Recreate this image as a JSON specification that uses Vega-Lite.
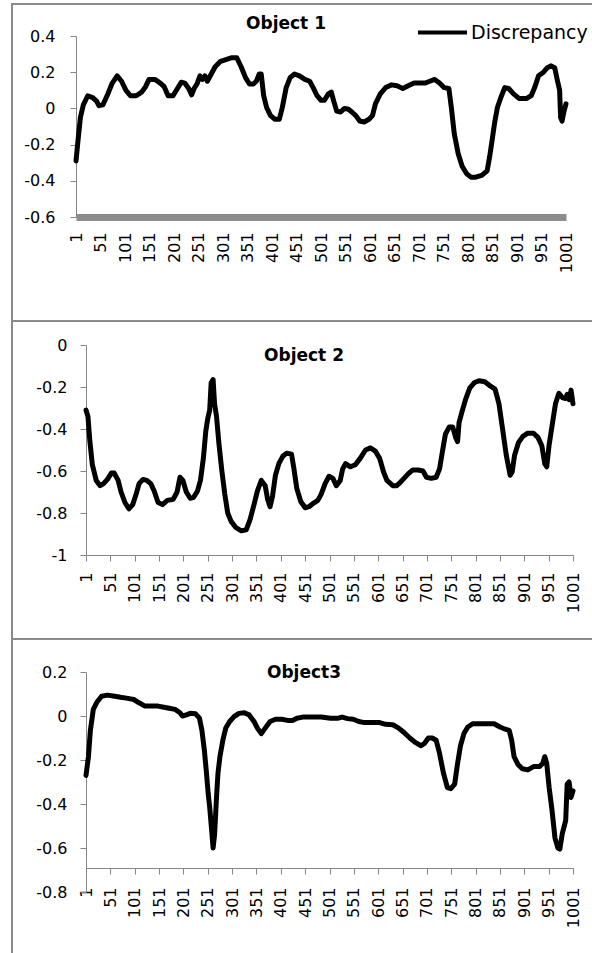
{
  "$schema": "https://vega.github.io/schema/vega-lite/v6.json",
  "background": "white",
  "padding": {"left": 11, "top": 3, "right": 0, "bottom": 0},
  "config": {
    "view": {"stroke": "#8c8c8c", "strokeWidth": 2},
    "font": "DejaVu Sans",
    "axis": {"labelFont": "DejaVu Sans", "labelFontSize": 16, "labelColor": "#000000", "domainColor": "#868686", "tickColor": "#868686", "grid": false, "tickSize": 6, "labelPadding": 14},
    "title": {"font": "DejaVu Sans", "fontSize": 17, "fontWeight": "bold", "color": "#000000"},
    "legend": {"labelFont": "DejaVu Sans", "labelFontSize": 19, "labelColor": "#000000", "padding": 0}
  },
  "datasets": {
    "p1": [
      {"i":1,"v":-0.29},{"i":5,"v":-0.18},{"i":10,"v":-0.05},{"i":16,"v":0.02},{"i":25,"v":0.07},{"i":35,"v":0.06},{"i":43,"v":0.04},{"i":48,"v":0.015},{"i":56,"v":0.02},{"i":66,"v":0.08},{"i":75,"v":0.14},{"i":85,"v":0.18},{"i":94,"v":0.15},{"i":103,"v":0.10},{"i":112,"v":0.07},{"i":124,"v":0.07},{"i":135,"v":0.09},{"i":143,"v":0.12},{"i":150,"v":0.16},{"i":162,"v":0.16},{"i":173,"v":0.14},{"i":181,"v":0.12},{"i":189,"v":0.07},{"i":199,"v":0.07},{"i":208,"v":0.11},{"i":216,"v":0.145},{"i":223,"v":0.14},{"i":231,"v":0.11},{"i":237,"v":0.075},{"i":242,"v":0.11},{"i":248,"v":0.135},{"i":254,"v":0.18},{"i":259,"v":0.16},{"i":264,"v":0.18},{"i":269,"v":0.15},{"i":277,"v":0.19},{"i":285,"v":0.23},{"i":296,"v":0.26},{"i":307,"v":0.27},{"i":319,"v":0.28},{"i":329,"v":0.28},{"i":338,"v":0.23},{"i":347,"v":0.17},{"i":355,"v":0.135},{"i":363,"v":0.135},{"i":369,"v":0.15},{"i":375,"v":0.19},{"i":379,"v":0.19},{"i":384,"v":0.07},{"i":390,"v":0.005},{"i":398,"v":-0.04},{"i":407,"v":-0.06},{"i":416,"v":-0.06},{"i":422,"v":0.005},{"i":430,"v":0.115},{"i":438,"v":0.17},{"i":447,"v":0.19},{"i":457,"v":0.18},{"i":468,"v":0.16},{"i":478,"v":0.15},{"i":485,"v":0.115},{"i":493,"v":0.07},{"i":501,"v":0.045},{"i":508,"v":0.045},{"i":516,"v":0.08},{"i":522,"v":0.09},{"i":527,"v":0.04},{"i":533,"v":-0.015},{"i":541,"v":-0.02},{"i":549,"v":0.0},{"i":557,"v":-0.005},{"i":564,"v":-0.02},{"i":572,"v":-0.04},{"i":580,"v":-0.07},{"i":589,"v":-0.075},{"i":599,"v":-0.06},{"i":606,"v":-0.04},{"i":612,"v":0.025},{"i":622,"v":0.08},{"i":633,"v":0.115},{"i":645,"v":0.13},{"i":656,"v":0.125},{"i":668,"v":0.11},{"i":679,"v":0.125},{"i":691,"v":0.14},{"i":702,"v":0.14},{"i":714,"v":0.14},{"i":723,"v":0.15},{"i":733,"v":0.16},{"i":743,"v":0.14},{"i":752,"v":0.115},{"i":762,"v":0.11},{"i":767,"v":0.005},{"i":773,"v":-0.14},{"i":781,"v":-0.25},{"i":789,"v":-0.32},{"i":798,"v":-0.36},{"i":807,"v":-0.38},{"i":817,"v":-0.38},{"i":829,"v":-0.37},{"i":840,"v":-0.345},{"i":845,"v":-0.27},{"i":850,"v":-0.18},{"i":855,"v":-0.085},{"i":861,"v":0.005},{"i":868,"v":0.06},{"i":876,"v":0.115},{"i":884,"v":0.11},{"i":894,"v":0.08},{"i":905,"v":0.055},{"i":921,"v":0.055},{"i":930,"v":0.07},{"i":937,"v":0.115},{"i":945,"v":0.18},{"i":955,"v":0.2},{"i":963,"v":0.225},{"i":970,"v":0.235},{"i":978,"v":0.225},{"i":983,"v":0.16},{"i":988,"v":0.10},{"i":990,"v":-0.05},{"i":993,"v":-0.07},{"i":997,"v":-0.015},{"i":1001,"v":0.025}
    ],
    "p2": [
      {"i":1,"v":-0.31},{"i":5,"v":-0.34},{"i":9,"v":-0.46},{"i":14,"v":-0.57},{"i":22,"v":-0.645},{"i":30,"v":-0.67},{"i":37,"v":-0.66},{"i":45,"v":-0.64},{"i":53,"v":-0.61},{"i":59,"v":-0.61},{"i":67,"v":-0.645},{"i":73,"v":-0.70},{"i":81,"v":-0.75},{"i":89,"v":-0.78},{"i":97,"v":-0.76},{"i":104,"v":-0.71},{"i":110,"v":-0.66},{"i":118,"v":-0.64},{"i":126,"v":-0.645},{"i":134,"v":-0.66},{"i":141,"v":-0.695},{"i":149,"v":-0.75},{"i":158,"v":-0.76},{"i":168,"v":-0.74},{"i":180,"v":-0.735},{"i":188,"v":-0.70},{"i":194,"v":-0.63},{"i":200,"v":-0.645},{"i":207,"v":-0.70},{"i":215,"v":-0.73},{"i":222,"v":-0.725},{"i":230,"v":-0.695},{"i":236,"v":-0.645},{"i":242,"v":-0.54},{"i":247,"v":-0.41},{"i":251,"v":-0.35},{"i":255,"v":-0.31},{"i":258,"v":-0.18},{"i":262,"v":-0.165},{"i":265,"v":-0.28},{"i":269,"v":-0.34},{"i":274,"v":-0.47},{"i":280,"v":-0.60},{"i":286,"v":-0.71},{"i":292,"v":-0.80},{"i":299,"v":-0.84},{"i":309,"v":-0.87},{"i":320,"v":-0.885},{"i":330,"v":-0.88},{"i":338,"v":-0.83},{"i":346,"v":-0.76},{"i":353,"v":-0.695},{"i":361,"v":-0.645},{"i":369,"v":-0.67},{"i":374,"v":-0.735},{"i":379,"v":-0.77},{"i":384,"v":-0.72},{"i":390,"v":-0.62},{"i":397,"v":-0.565},{"i":405,"v":-0.53},{"i":413,"v":-0.515},{"i":423,"v":-0.52},{"i":428,"v":-0.59},{"i":434,"v":-0.685},{"i":442,"v":-0.745},{"i":451,"v":-0.775},{"i":459,"v":-0.77},{"i":467,"v":-0.755},{"i":477,"v":-0.74},{"i":484,"v":-0.71},{"i":492,"v":-0.66},{"i":500,"v":-0.625},{"i":508,"v":-0.635},{"i":515,"v":-0.67},{"i":523,"v":-0.645},{"i":528,"v":-0.59},{"i":534,"v":-0.565},{"i":544,"v":-0.58},{"i":554,"v":-0.57},{"i":564,"v":-0.54},{"i":575,"v":-0.50},{"i":585,"v":-0.49},{"i":595,"v":-0.505},{"i":604,"v":-0.54},{"i":612,"v":-0.605},{"i":619,"v":-0.645},{"i":631,"v":-0.67},{"i":639,"v":-0.67},{"i":646,"v":-0.655},{"i":654,"v":-0.635},{"i":662,"v":-0.615},{"i":672,"v":-0.595},{"i":683,"v":-0.595},{"i":693,"v":-0.60},{"i":700,"v":-0.63},{"i":710,"v":-0.635},{"i":720,"v":-0.63},{"i":727,"v":-0.59},{"i":733,"v":-0.505},{"i":739,"v":-0.425},{"i":747,"v":-0.39},{"i":754,"v":-0.39},{"i":760,"v":-0.44},{"i":764,"v":-0.46},{"i":767,"v":-0.37},{"i":774,"v":-0.31},{"i":781,"v":-0.255},{"i":789,"v":-0.205},{"i":798,"v":-0.18},{"i":808,"v":-0.17},{"i":820,"v":-0.175},{"i":831,"v":-0.195},{"i":841,"v":-0.21},{"i":849,"v":-0.28},{"i":857,"v":-0.41},{"i":864,"v":-0.525},{"i":872,"v":-0.62},{"i":876,"v":-0.605},{"i":881,"v":-0.525},{"i":889,"v":-0.465},{"i":898,"v":-0.435},{"i":908,"v":-0.42},{"i":920,"v":-0.42},{"i":929,"v":-0.44},{"i":937,"v":-0.48},{"i":943,"v":-0.565},{"i":947,"v":-0.58},{"i":952,"v":-0.475},{"i":958,"v":-0.385},{"i":965,"v":-0.28},{"i":972,"v":-0.23},{"i":979,"v":-0.25},{"i":986,"v":-0.255},{"i":989,"v":-0.235},{"i":993,"v":-0.26},{"i":997,"v":-0.215},{"i":1001,"v":-0.28}
    ],
    "p3": [
      {"i":1,"v":-0.27},{"i":6,"v":-0.185},{"i":10,"v":-0.065},{"i":16,"v":0.03},{"i":24,"v":0.065},{"i":33,"v":0.09},{"i":45,"v":0.095},{"i":60,"v":0.09},{"i":72,"v":0.085},{"i":87,"v":0.08},{"i":99,"v":0.075},{"i":110,"v":0.06},{"i":122,"v":0.045},{"i":134,"v":0.045},{"i":149,"v":0.045},{"i":161,"v":0.04},{"i":172,"v":0.035},{"i":184,"v":0.03},{"i":194,"v":0.015},{"i":199,"v":0.0},{"i":207,"v":0.005},{"i":215,"v":0.012},{"i":226,"v":0.01},{"i":234,"v":-0.01},{"i":239,"v":-0.065},{"i":244,"v":-0.155},{"i":248,"v":-0.25},{"i":252,"v":-0.355},{"i":255,"v":-0.415},{"i":259,"v":-0.52},{"i":262,"v":-0.60},{"i":265,"v":-0.54},{"i":269,"v":-0.37},{"i":272,"v":-0.26},{"i":276,"v":-0.185},{"i":282,"v":-0.11},{"i":288,"v":-0.055},{"i":296,"v":-0.025},{"i":305,"v":-0.003},{"i":315,"v":0.012},{"i":326,"v":0.015},{"i":336,"v":0.005},{"i":346,"v":-0.025},{"i":353,"v":-0.055},{"i":361,"v":-0.08},{"i":369,"v":-0.055},{"i":379,"v":-0.025},{"i":390,"v":-0.015},{"i":403,"v":-0.015},{"i":415,"v":-0.02},{"i":425,"v":-0.02},{"i":434,"v":-0.01},{"i":446,"v":-0.005},{"i":465,"v":-0.005},{"i":484,"v":-0.005},{"i":503,"v":-0.01},{"i":519,"v":-0.01},{"i":527,"v":-0.005},{"i":538,"v":-0.012},{"i":550,"v":-0.015},{"i":561,"v":-0.025},{"i":573,"v":-0.03},{"i":588,"v":-0.03},{"i":604,"v":-0.03},{"i":616,"v":-0.038},{"i":631,"v":-0.04},{"i":643,"v":-0.055},{"i":654,"v":-0.075},{"i":666,"v":-0.1},{"i":677,"v":-0.12},{"i":689,"v":-0.135},{"i":696,"v":-0.125},{"i":704,"v":-0.1},{"i":712,"v":-0.1},{"i":720,"v":-0.11},{"i":727,"v":-0.17},{"i":735,"v":-0.26},{"i":743,"v":-0.325},{"i":750,"v":-0.33},{"i":758,"v":-0.31},{"i":764,"v":-0.215},{"i":770,"v":-0.135},{"i":777,"v":-0.08},{"i":785,"v":-0.05},{"i":795,"v":-0.035},{"i":808,"v":-0.035},{"i":824,"v":-0.035},{"i":839,"v":-0.035},{"i":851,"v":-0.05},{"i":862,"v":-0.06},{"i":870,"v":-0.065},{"i":875,"v":-0.11},{"i":880,"v":-0.185},{"i":888,"v":-0.22},{"i":897,"v":-0.24},{"i":908,"v":-0.245},{"i":920,"v":-0.23},{"i":932,"v":-0.23},{"i":939,"v":-0.215},{"i":943,"v":-0.185},{"i":947,"v":-0.215},{"i":952,"v":-0.325},{"i":958,"v":-0.43},{"i":964,"v":-0.555},{"i":970,"v":-0.60},{"i":974,"v":-0.605},{"i":979,"v":-0.535},{"i":986,"v":-0.475},{"i":989,"v":-0.31},{"i":993,"v":-0.30},{"i":997,"v":-0.37},{"i":1001,"v":-0.34}
    ]
  },
  "spacing": 0,
  "bounds": "flush",
  "vconcat": [
    {
      "width": 584,
      "height": 317,
      "data": {"name": "p1"},
      "title": {"text": "Object 1", "dx": -18, "offset": -28.5},
      "mark": {"type": "line", "strokeWidth": 5, "strokeJoin": "round", "strokeCap": "round"},
      "encoding": {
        "x": {"field": "i", "type": "quantitative", "scale": {"domain": [1, 1001], "nice": false, "zero": false, "range": [64, 554]},
          "axis": {"title": null, "offset": -104, "values": [1,51,101,151,201,251,301,351,401,451,501,551,601,651,701,751,801,851,901,951,1001], "format": "d", "labelAngle": -90, "labelOverlap": false, "labelFlush": false, "domainColor": "#8c8c8c", "domainWidth": 7, "tickSize": 0, "labelPadding": 15}},
        "y": {"field": "v", "type": "quantitative", "scale": {"domain": [-0.6, 0.4], "nice": false, "zero": false, "range": [213, 32]},
          "axis": {"title": null, "offset": -64, "values": [-0.6,-0.4,-0.2,0,0.2,0.4], "labelExpr": "'' + datum.value", "labelPadding": 15}},
        "color": {"datum": "Discrepancy", "scale": {"range": ["#000000"]},
          "legend": {"title": null, "orient": "none", "legendX": 404, "legendY": 2, "symbolType": "stroke", "symbolSize": 2401, "symbolStrokeWidth": 4, "symbolStrokeColor": "#000000", "labelOffset": 2}}
      }
    },
    {
      "width": 584,
      "height": 318,
      "data": {"name": "p2"},
      "title": {"text": "Object 2", "dx": 0, "offset": -43.5},
      "mark": {"type": "line", "color": "#000000", "strokeWidth": 5, "strokeJoin": "round", "strokeCap": "round"},
      "encoding": {
        "x": {"field": "i", "type": "quantitative", "scale": {"domain": [1, 1001], "nice": false, "zero": false, "range": [74, 561]},
          "axis": {"title": null, "offset": -84, "values": [1,51,101,151,201,251,301,351,401,451,501,551,601,651,701,751,801,851,901,951,1001], "format": "d", "labelAngle": -90, "labelOverlap": false, "labelFlush": false, "labelPadding": 11}},
        "y": {"field": "v", "type": "quantitative", "scale": {"domain": [-1, 0], "nice": false, "zero": false, "range": [234, 24]},
          "axis": {"title": null, "offset": -74, "values": [-1,-0.8,-0.6,-0.4,-0.2,0], "labelExpr": "'' + datum.value", "labelPadding": 13}}
      }
    },
    {
      "width": 584,
      "height": 321,
      "data": {"name": "p3"},
      "title": {"text": "Object3", "dx": 0, "offset": -42.5},
      "mark": {"type": "line", "color": "#000000", "strokeWidth": 5, "strokeJoin": "round", "strokeCap": "round"},
      "encoding": {
        "x": {"field": "i", "type": "quantitative", "scale": {"domain": [1, 1001], "nice": false, "zero": false, "range": [74, 561]},
          "axis": {"title": null, "offset": -92, "values": [1,51,101,151,201,251,301,351,401,451,501,551,601,651,701,751,801,851,901,951,1001], "format": "d", "labelAngle": -90, "labelOverlap": false, "labelFlush": false, "labelPadding": 13}},
        "y": {"field": "v", "type": "quantitative", "scale": {"domain": [-0.8, 0.2], "nice": false, "zero": false, "range": [253, 33]},
          "axis": {"title": null, "offset": -74, "values": [-0.8,-0.6,-0.4,-0.2,0,0.2], "labelExpr": "'' + datum.value", "labelPadding": 13}}
      }
    }
  ]
}
